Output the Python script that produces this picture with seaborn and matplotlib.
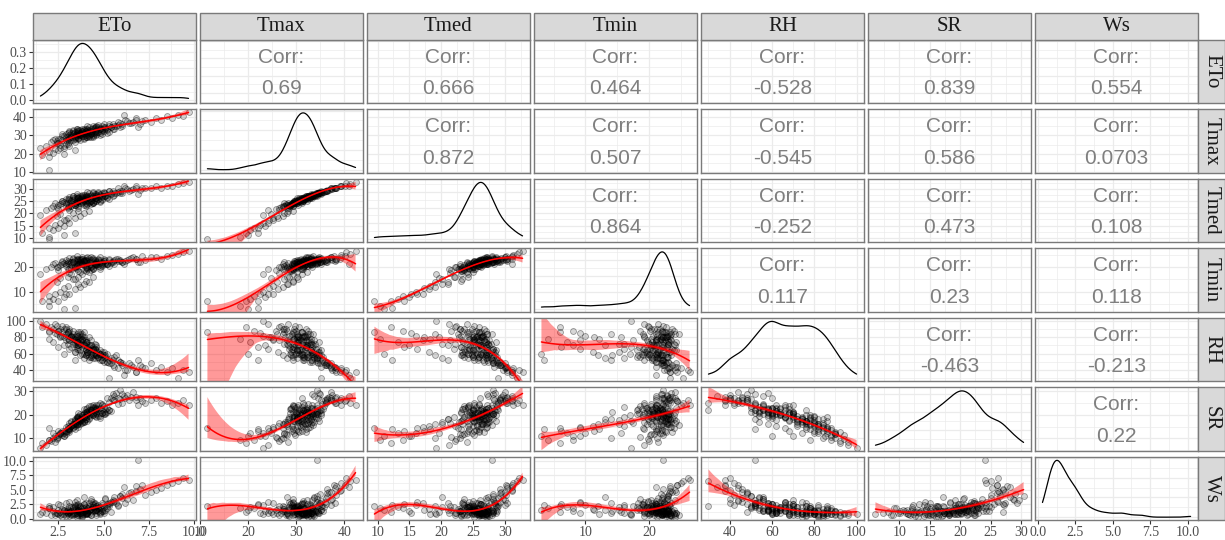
import matplotlib
matplotlib.use("Agg")
import matplotlib.pyplot as plt
from matplotlib.patches import Rectangle
from matplotlib.collections import PolyCollection
from matplotlib.ticker import AutoMinorLocator, MaxNLocator
import pandas as pd
import seaborn as sns

ETo = [1.6, 2.0, 2.3, 2.6, 2.8, 3.0, 2.4, 3.3, 2.9, 3.6,
       1.8, 2.1, 2.2, 2.5, 2.7, 2.9, 3.1, 3.2, 3.4, 3.5,
       3.6, 3.7, 3.8, 3.8, 3.9, 4.0, 4.0, 4.1, 4.2, 4.3,
       3.3, 3.5, 3.7, 3.9, 4.1, 4.3, 4.4, 4.5, 4.6, 4.7,
       4.5, 4.6, 4.8, 4.9, 5.0, 5.1, 5.2, 5.3, 5.4, 5.5,
       5.6, 5.8, 5.9, 6.0, 6.2, 6.4, 6.6, 6.8, 7.0, 7.3,
       7.6, 7.9, 8.2, 8.5, 8.8, 9.1, 9.4, 9.7, 6.9, 6.1,
       3.0, 3.2, 3.4, 3.6, 3.8, 4.0, 4.2, 4.4, 2.7, 3.1,
       3.5, 3.7, 3.9, 4.1, 4.3, 4.4, 4.6, 4.8, 4.9, 5.2,
       2.2, 2.5, 2.8, 3.1, 3.4, 3.7, 2.0, 3.9, 4.2, 1.5,
       2.0, 2.8, 3.4,
       3.2, 4.4, 3.9, 5.1, 2.6, 4.7, 3.5, 4.2, 5.8, 3.0,
       4.0, 3.6, 4.9, 2.9, 4.5, 3.3, 5.4, 3.8, 4.3, 2.4,
       4.6, 3.4, 5.0, 3.7, 4.1, 6.3, 3.1, 4.8, 3.6, 4.4,
       2.8, 5.3, 3.9, 4.2, 3.4, 4.6, 5.6, 3.0, 4.0, 3.7,
       4.9, 3.2, 4.3, 5.7, 3.8, 2.5, 4.5, 3.5, 4.7, 6.5,
       3.3, 4.1, 3.6, 5.2, 4.4, 2.7, 3.9, 4.8, 3.1, 5.5,
       4.0, 3.4, 4.6, 6.8, 3.7, 4.2, 2.3, 5.0, 3.5, 4.3,
       3.8, 5.9, 3.2, 4.5, 4.1, 3.0, 4.9, 3.6, 7.1, 4.0,
       3.3, 4.7, 3.9, 2.6, 4.4, 5.3, 3.5, 4.2, 3.1, 4.8,
       3.7, 6.0, 4.0, 3.4, 4.6, 2.9, 5.1, 3.8, 4.3, 3.6]
Tmax = [19.5, 21.2, 22.4, 23.1, 24.3, 25.2, 26.0, 27.4, 25.1, 28.2,
        24.1, 26.3, 27.2, 28.0, 27.5, 29.1, 28.4, 30.2, 29.3, 31.0,
        30.4, 31.2, 29.6, 32.1, 31.3, 30.2, 32.4, 31.1, 33.0, 30.5,
        31.2, 32.3, 30.1, 33.2, 32.0, 31.4, 34.1, 32.2, 33.3, 31.5,
        34.2, 30.3, 33.1, 35.0, 32.4, 34.3, 33.2, 35.1, 34.4, 36.0,
        35.2, 37.1, 34.3, 36.2, 38.0, 36.4, 37.2, 39.1, 36.3, 38.2,
        37.3, 39.2, 38.1, 40.2, 39.3, 41.1, 40.4, 42.3, 34.2, 41.0,
        28.1, 29.2, 30.3, 28.4, 31.1, 29.3, 32.2, 30.1, 30.4, 32.1,
        33.1, 30.2, 29.4, 33.3, 32.1, 29.2, 35.1, 31.3, 33.2, 31.1,
        20.3, 22.1, 23.4, 24.2, 26.1, 27.3, 18.2, 28.1, 29.2, 23.1,
        11.5, 20.0, 22.0,
        31.4, 29.8, 32.6, 33.8, 27.9, 34.6, 30.1, 31.9, 35.4, 29.2,
        33.1, 28.7, 32.4, 30.6, 31.2, 32.8, 34.2, 29.6, 33.5, 26.8,
        30.8, 31.6, 35.8, 30.4, 28.9, 37.4, 30.0, 33.4, 32.2, 31.0,
        29.4, 36.2, 31.8, 34.4, 28.4, 32.0, 33.6, 31.2, 30.2, 33.0,
        30.6, 27.6, 31.4, 34.8, 32.4, 25.8, 33.8, 29.0, 31.6, 36.8,
        30.8, 32.6, 31.0, 32.8, 35.2, 29.8, 28.6, 34.0, 32.0, 33.2,
        31.4, 29.6, 32.8, 38.2, 30.6, 30.0, 28.2, 34.4, 31.8, 29.2,
        33.6, 36.4, 29.0, 31.8, 34.8, 27.2, 33.0, 30.2, 37.8, 28.8,
        32.4, 35.6, 30.4, 24.8, 33.2, 31.6, 33.4, 29.4, 26.4, 30.0,
        31.2, 35.0, 32.2, 28.0, 34.2, 27.4, 33.6, 31.6, 30.6, 32.8]
Tmed = [12.1, 14.0, 15.2, 16.1, 17.3, 18.2, 19.1, 20.2, 17.1, 21.0,
        21.2, 22.1, 23.0, 23.3, 24.1, 24.2, 23.1, 25.0, 24.3, 25.2,
        25.1, 26.0, 25.2, 26.3, 26.1, 25.0, 27.1, 25.3, 27.2, 26.1,
        26.2, 26.1, 24.0, 27.3, 27.0, 25.2, 28.1, 26.2, 27.1, 26.0,
        27.2, 25.1, 28.0, 28.3, 27.1, 28.2, 27.3, 29.0, 28.1, 29.2,
        28.3, 30.1, 28.2, 29.0, 30.3, 29.2, 30.0, 31.1, 29.3, 30.2,
        30.1, 31.2, 30.3, 31.1, 31.3, 32.0, 32.2, 32.8, 28.0, 31.2,
        22.2, 23.1, 23.3, 22.0, 24.2, 23.1, 25.0, 24.2, 25.1, 26.0,
        27.0, 26.1, 25.2, 26.2, 27.1, 24.3, 28.0, 25.1, 27.2, 26.1,
        13.2, 14.1, 15.0, 16.2, 18.1, 19.0, 10.3, 20.2, 21.1, 19.2,
        9.5, 11.0, 12.2,
        25.6, 24.2, 26.8, 27.1, 23.6, 28.4, 24.8, 26.2, 28.6, 24.4,
        27.4, 23.1, 26.0, 25.9, 25.4, 27.2, 27.8, 24.6, 27.6, 22.4,
        25.2, 26.4, 28.8, 25.0, 23.8, 29.8, 25.4, 27.0, 26.6, 24.8,
        24.8, 29.0, 25.8, 28.2, 23.4, 26.4, 27.4, 26.0, 24.4, 27.0,
        25.6, 22.8, 25.0, 28.4, 27.2, 21.6, 27.8, 23.6, 25.8, 29.4,
        25.6, 26.6, 26.2, 26.8, 28.6, 25.2, 23.4, 27.6, 26.8, 27.2,
        26.0, 24.0, 26.4, 30.4, 25.4, 24.6, 24.0, 28.2, 26.4, 23.6,
        27.6, 29.2, 24.2, 26.2, 28.6, 22.6, 26.6, 25.2, 30.2, 23.2,
        27.0, 28.8, 25.6, 19.6, 27.2, 25.8, 28.0, 24.2, 21.4, 24.8,
        26.0, 28.2, 26.8, 23.2, 27.4, 23.0, 27.0, 26.6, 25.0, 26.2]
Tmin = [6.0, 8.1, 9.2, 10.0, 11.3, 12.1, 14.0, 15.2, 9.1, 13.0,
        19.1, 20.0, 21.2, 20.1, 22.0, 21.1, 19.2, 22.1, 20.2, 21.0,
        21.1, 22.0, 21.2, 21.0, 22.2, 20.1, 23.0, 19.2, 22.1, 22.0,
        22.1, 20.2, 18.1, 23.0, 22.2, 20.0, 23.1, 21.0, 22.2, 21.1,
        21.2, 21.0, 24.1, 22.0, 22.2, 23.0, 21.1, 23.2, 22.0, 22.3,
        21.0, 23.1, 22.2, 22.0, 22.3, 23.1, 24.0, 23.2, 22.1, 23.0,
        24.1, 24.0, 23.2, 24.3, 25.0, 25.2, 26.0, 26.3, 22.1, 21.0,
        16.0, 17.1, 15.2, 16.1, 17.0, 14.2, 18.1, 16.0, 21.2, 21.0,
        23.1, 23.0, 22.2, 20.1, 24.0, 19.2, 22.0, 19.1, 21.2, 21.0,
        7.1, 6.2, 8.0, 9.1, 11.2, 12.0, 4.1, 13.1, 14.0, 17.2,
        6.0, 3.1, 3.5,
        21.8, 19.6, 22.4, 21.2, 20.8, 23.1, 20.4, 22.6, 22.2, 21.4,
        23.8, 18.4, 20.2, 22.6, 20.9, 23.4, 21.6, 21.0, 22.9, 19.8,
        20.6, 22.8, 22.4, 21.6, 19.4, 22.8, 22.0, 21.8, 23.0, 19.0,
        21.6, 22.6, 20.8, 23.6, 19.8, 22.0, 22.8, 22.4, 19.6, 23.2,
        21.4, 19.2, 19.8, 23.4, 24.0, 18.6, 23.0, 19.0, 20.4, 23.6,
        21.8, 21.4, 23.2, 21.0, 23.8, 22.2, 18.8, 22.6, 23.6, 22.0,
        22.2, 20.0, 21.2, 23.2, 22.0, 20.6, 21.4, 23.2, 22.8, 18.6,
        23.4, 23.0, 20.6, 21.6, 24.2, 19.0, 20.8, 21.8, 24.4, 18.2,
        23.8, 22.8, 22.4, 15.6, 22.8, 20.4, 24.6, 20.2, 17.4, 20.0,
        22.6, 21.8, 23.0, 19.6, 21.6, 20.2, 21.4, 23.2, 20.4, 21.0]
RH = [92, 88, 85, 82, 80, 78, 84, 72, 76, 70,
      96, 92, 90, 88, 86, 84, 82, 80, 78, 76,
      74, 72, 78, 68, 70, 66, 74, 62, 64, 76,
      80, 70, 64, 72, 68, 58, 66, 60, 62, 56,
      54, 70, 64, 52, 58, 56, 50, 30, 48, 46,
      44, 42, 50, 46, 40, 48, 44, 38, 46, 42,
      48, 40, 44, 38, 42, 30, 40, 38, 52, 34,
      72, 68, 62, 66, 60, 58, 56, 54, 82, 76,
      74, 84, 86, 60, 70, 66, 58, 52, 62, 60,
      74, 68, 70, 66, 62, 58, 78, 54, 52, 100,
      86, 60, 52,
      82, 60, 76, 58, 90, 62, 74, 80, 52, 86,
      72, 68, 56, 92, 66, 84, 54, 78, 70, 94,
      64, 80, 50, 76, 62, 40, 88, 60, 82, 58,
      90, 48, 70, 66, 74, 68, 56, 86, 64, 78,
      60, 80, 56, 58, 84, 88, 72, 66, 54, 46,
      78, 62, 86, 50, 64, 94, 60, 60, 90, 52,
      74, 72, 58, 38, 80, 70, 96, 62, 82, 56,
      76, 50, 82, 66, 74, 84, 52, 78, 44, 58,
      88, 56, 80, 80, 68, 52, 84, 68, 76, 60,
      86, 48, 76, 76, 58, 90, 54, 82, 64, 70]
SR = [8.2, 9.4, 11.1, 12.3, 13.0, 14.2, 10.1, 16.3, 15.0, 18.1,
      7.3, 9.0, 10.2, 11.4, 12.1, 13.3, 14.0, 15.2, 16.1, 17.3,
      17.0, 18.2, 19.1, 18.0, 20.2, 19.3, 18.1, 21.0, 20.1, 22.2,
      16.0, 19.2, 20.3, 17.1, 21.2, 22.0, 20.4, 23.1, 22.3, 24.0,
      21.1, 24.2, 23.0, 22.1, 21.2, 20.4, 23.0, 22.0, 27.1, 26.2,
      26.1, 27.2, 30.4, 25.0, 27.3, 26.1, 29.6, 26.2, 27.0, 25.1,
      26.3, 27.1, 25.2, 26.0, 24.3, 25.1, 26.2, 24.0, 24.1, 28.2,
      15.1, 17.2, 18.0, 19.3, 20.1, 21.2, 22.1, 23.3, 13.1, 14.2,
      16.1, 18.3, 19.0, 20.2, 21.1, 24.3, 21.0, 25.1, 24.2, 27.0,
      12.1, 13.2, 11.0, 14.3, 15.1, 16.2, 9.2, 17.1, 18.3, 6.1,
      14.5, 11.2, 14.1,
      15.4, 22.8, 17.6, 22.4, 11.8, 21.6, 18.8, 19.4, 24.8, 14.2,
      18.2, 20.6, 24.8, 12.6, 23.4, 14.8, 21.8, 19.8, 20.4, 9.8,
      20.2, 16.6, 23.6, 17.2, 23.0, 28.6, 13.6, 19.6, 16.2, 19.8,
      12.2, 25.6, 20.8, 18.6, 18.4, 22.4, 28.2, 13.2, 21.4, 17.8,
      20.6, 16.8, 22.2, 29.4, 16.4, 10.6, 19.6, 19.2, 19.4, 27.4,
      15.8, 21.8, 15.0, 21.4, 20.0, 11.4, 22.6, 18.8, 12.8, 28.8,
      19.0, 17.4, 19.2, 27.6, 18.0, 21.2, 8.6, 20.2, 16.0, 23.6,
      17.0, 26.6, 15.2, 22.0, 17.4, 14.4, 20.8, 18.6, 26.0, 22.4,
      14.6, 22.6, 19.2, 12.4, 20.6, 22.2, 15.6, 23.8, 16.4, 21.0,
      17.4, 29.0, 19.8, 16.2, 22.8, 12.0, 20.6, 18.2, 22.6, 19.6]
Ws = [1.2, 1.8, 1.0, 2.4, 1.5, 0.8, 1.1, 2.0, 2.8, 1.6,
      1.0, 0.6, 1.3, 0.9, 1.7, 1.2, 0.5, 1.4, 2.2, 1.0,
      1.3, 0.7, 1.9, 1.1, 2.5, 1.5, 0.9, 1.2, 1.8, 0.6,
      1.0, 3.2, 2.1, 1.4, 0.8, 1.7, 1.3, 2.6, 1.1, 1.9,
      1.6, 2.3, 1.0, 2.8, 1.4, 3.5, 1.8, 2.2, 1.2, 2.9,
      3.1, 2.4, 4.0, 3.6, 2.7, 4.4, 3.3, 4.8, 5.2, 4.1,
      4.6, 5.0, 5.4, 5.9, 6.2, 6.6, 7.1, 6.8, 10.2, 5.5,
      1.1, 0.7, 1.5, 2.0, 0.9, 1.3, 1.6, 2.4, 0.4, 1.2,
      0.3, 1.0, 1.8, 1.1, 0.6, 2.9, 1.5, 2.1, 1.3, 2.5,
      2.0, 2.6, 1.4, 3.0, 1.7, 2.3, 1.9, 3.8, 2.7, 0.8,
      2.2, 1.6, 2.4,
      0.9, 2.1, 1.4, 1.6, 0.7, 2.4, 1.1, 0.8, 2.2, 1.5,
      1.0, 1.9, 1.3, 0.5, 2.7, 0.6, 3.0, 1.2, 1.7, 1.1,
      1.5, 0.9, 2.0, 2.3, 1.8, 3.4, 1.3, 0.9, 1.6, 2.5,
      0.8, 2.6, 1.2, 1.4, 2.9, 0.7, 3.8, 1.0, 2.0, 1.1,
      1.7, 1.4, 3.1, 2.8, 0.4, 1.6, 1.3, 2.4, 1.9, 4.6,
      1.8, 1.0, 0.6, 2.3, 1.5, 0.9, 2.6, 1.2, 1.2, 3.3,
      0.8, 2.1, 1.6, 5.6, 1.4, 2.2, 0.7, 1.1, 1.3, 3.4,
      0.5, 3.9, 2.0, 1.8, 1.0, 1.7, 2.4, 1.5, 5.8, 2.8,
      0.8, 1.4, 0.9, 1.2, 2.0, 2.7, 0.6, 1.3, 2.2, 1.9,
      1.0, 4.3, 1.6, 1.1, 2.3, 1.4, 3.6, 0.7, 1.7, 2.5]

variables = ["ETo", "Tmax", "Tmed", "Tmin", "RH", "SR", "Ws"]

# correlations printed in the upper panels
corr_labels = {
    ("ETo", "Tmax"): "0.69", ("ETo", "Tmed"): "0.666", ("ETo", "Tmin"): "0.464",
    ("ETo", "RH"): "-0.528", ("ETo", "SR"): "0.839", ("ETo", "Ws"): "0.554",
    ("Tmax", "Tmed"): "0.872", ("Tmax", "Tmin"): "0.507", ("Tmax", "RH"): "-0.545",
    ("Tmax", "SR"): "0.586", ("Tmax", "Ws"): "0.0703",
    ("Tmed", "Tmin"): "0.864", ("Tmed", "RH"): "-0.252", ("Tmed", "SR"): "0.473",
    ("Tmed", "Ws"): "0.108",
    ("Tmin", "RH"): "0.117", ("Tmin", "SR"): "0.23", ("Tmin", "Ws"): "0.118",
    ("RH", "SR"): "-0.463", ("RH", "Ws"): "-0.213",
    ("SR", "Ws"): "0.22",
}

x_ticks = {"ETo": [2.5, 5.0, 7.5, 10.0], "Tmax": [10, 20, 30, 40],
           "Tmed": [10, 15, 20, 25, 30], "Tmin": [10, 20], "RH": [40, 60, 80, 100],
           "SR": [10, 15, 20, 25, 30], "Ws": [0.0, 2.5, 5.0, 7.5, 10.0]}
y_ticks = dict(x_ticks, SR=[10, 20, 30])
one_decimal = ["ETo", "Ws"]
density_ticks = [0.0, 0.1, 0.2, 0.3]

df = pd.DataFrame({"ETo": ETo, "Tmax": Tmax, "Tmed": Tmed, "Tmin": Tmin,
                   "RH": RH, "SR": SR, "Ws": Ws})

sns.set_theme(style="white")
plt.rcParams["font.family"] = ["Liberation Serif", "DejaVu Serif"]

GRID = "#EBEBEB"
BORDER = "#7A7A7A"
fig = plt.figure(figsize=(12.25, 5.4), dpi=100)
gs = fig.add_gridspec(7, 7, left=33 / 1225, right=1198 / 1225,
                      top=1 - 40 / 540, bottom=1 - 520 / 540,
                      wspace=0.025, hspace=0.103)

lims = {}
for v in variables:
    lo, hi = df[v].min(), df[v].max()
    pad = 0.05 * (hi - lo)
    lims[v] = (lo - pad, hi + pad)


def fmt(v, t):
    return f"{t:.1f}" if v in one_decimal else f"{t:g}"


n = len(variables)
for i, yv in enumerate(variables):
    for j, xv in enumerate(variables):
        ax = fig.add_subplot(gs[i, j])
        ax.set_axisbelow(True)
        if i == j:
            sns.kdeplot(x=df[xv], ax=ax, color="black", lw=0.9, cut=0,
                        bw_adjust=0.7)
            top = ax.lines[0].get_ydata().max()
            ax.set_ylim(-0.05 * top, top * 1.06)
            if i == 0:
                ax.set_yticks(density_ticks)
                ax.set_yticklabels([f"{t:.1f}" for t in density_ticks])
            else:
                ax.yaxis.set_major_locator(MaxNLocator(4))
        elif i > j:
            sns.scatterplot(data=df, x=xv, y=yv, ax=ax, s=18,
                            color=(0, 0, 0, 0.16), edgecolor=(0, 0, 0, 0.38),
                            linewidth=0.6)
            sns.regplot(data=df, x=xv, y=yv, ax=ax, scatter=False, order=3,
                        ci=95, n_boot=400, seed=0, color="red",
                        line_kws={"lw": 1.1})
            for coll in ax.collections:
                if isinstance(coll, PolyCollection):
                    coll.set_alpha(0.4)
                    coll.set_edgecolor("none")
        else:
            ax.text(0.5, 0.73, "Corr:", transform=ax.transAxes, ha="center",
                    va="center", fontsize=15, color="#7F7F7F",
                    family=["Liberation Sans", "DejaVu Sans"])
            ax.text(0.5, 0.23, corr_labels[(yv, xv)], transform=ax.transAxes,
                    ha="center", va="center", fontsize=15, color="#7F7F7F",
                    family=["Liberation Sans", "DejaVu Sans"])

        ax.set_xlim(lims[xv])
        ax.set_xticks(x_ticks[xv])
        ax.set_xticklabels([fmt(xv, t) for t in x_ticks[xv]])
        if i != j:
            ax.set_ylim(lims[yv])
            ax.set_yticks(y_ticks[yv])
            ax.set_yticklabels([fmt(yv, t) for t in y_ticks[yv]])
        ax.set_xlabel("")
        ax.set_ylabel("")
        ax.xaxis.set_minor_locator(AutoMinorLocator(2))
        ax.yaxis.set_minor_locator(AutoMinorLocator(2))
        ax.grid(which="major", color=GRID, lw=0.9)
        ax.grid(which="minor", color=GRID, lw=0.5)
        ax.tick_params(which="minor", length=0)
        ax.tick_params(which="major", length=3, width=0.8, color="#333333",
                       labelsize=10, labelcolor="#4D4D4D", pad=1.5,
                       left=(j == 0), labelleft=(j == 0),
                       bottom=(i == n - 1), labelbottom=(i == n - 1))
        for sp in ax.spines.values():
            sp.set_color(BORDER)
            sp.set_linewidth(1.0)

        pos = ax.get_position()
        if i == 0:
            h = 27 / 540
            fig.add_artist(Rectangle((pos.x0, pos.y1), pos.width, h,
                                     transform=fig.transFigure, fc="#D9D9D9",
                                     ec=BORDER, lw=1.0))
            fig.text(pos.x0 + pos.width / 2, pos.y1 + h / 2, xv, ha="center",
                     va="center", fontsize=15, color="#1A1A1A")
        if j == n - 1:
            w = 27 / 1225
            fig.add_artist(Rectangle((pos.x1, pos.y0), w, pos.height,
                                     transform=fig.transFigure, fc="#D9D9D9",
                                     ec=BORDER, lw=1.0))
            fig.text(pos.x1 + w / 2, pos.y0 + pos.height / 2, yv, ha="center",
                     va="center", rotation=-90, fontsize=15, color="#1A1A1A")

fig.savefig("out.png", dpi=100)
